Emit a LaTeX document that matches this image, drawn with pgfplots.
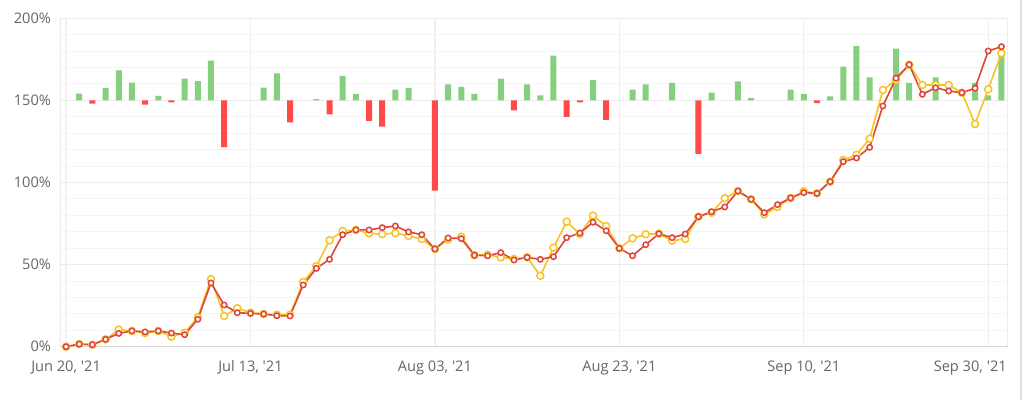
\documentclass[border=0pt]{standalone}
\usepackage{fontspec}
\setmainfont{Open Sans}
\usepackage{pgfplots}
\usepackage{pgfplotstable}
\pgfplotsset{compat=1.18}

\definecolor{barup}{RGB}{134,207,126}
\definecolor{bardown}{RGB}{255,74,74}
\definecolor{redline}{RGB}{224,69,58}
\definecolor{yelline}{RGB}{247,196,35}
\definecolor{ticktext}{RGB}{102,102,102}

% idx  red  yellow
\pgfplotstableread{
idx red yellow
0 0 0
1 1.6 1.6
2 1.2 1.2
3 4.5 4.5
4 8.1 10.4
5 9.6 9.6
6 9.0 8.3
7 9.6 9.6
8 8.3 6.1
9 7.3 8.5
10 16.7 17.9
11 38.8 41.2
12 25.4 18.7
13 20.7 23.4
14 20.3 20.7
15 19.9 19.9
16 18.9 19.5
17 18.7 19.5
18 37.6 39.4
19 47.7 49.1
20 53.2 64.8
21 68.2 70.5
22 71.1 71.1
23 71.1 69.1
24 72.5 68.5
25 73.5 69.2
26 69.9 67.4
27 68.2 65.6
28 59.5 59.5
29 66.2 65.4
30 65.8 67.0
31 55.7 55.7
32 55.4 56.0
33 57.3 54.4
34 52.8 53.4
35 54.4 54.4
36 53.2 43.2
37 54.8 60.3
38 66.4 76.1
39 69.2 68.6
40 75.8 79.8
41 70.6 73.5
42 59.9 59.9
43 55.4 66.0
44 62.1 68.5
45 68.8 68.8
46 66.4 64.6
47 68.6 65.6
48 79.2 79.2
49 82.2 81.6
50 85.1 90.4
51 94.8 94.8
52 89.8 89.8
53 81.6 80.6
54 86.5 85.1
55 90.6 90.6
56 93.8 94.6
57 93.4 93.4
58 100.5 100.5
59 112.7 113.7
60 114.9 116.9
61 121.4 126.7
62 146.6 156.3
63 163.5 162.4
64 171.7 171.7
65 153.7 159.4
66 157.7 159.4
67 155.7 159.4
68 154.7 154.7
69 157.4 135.6
70 180.1 156.8
71 182.7 178.7
}\lines

\pgfplotstableread{
idx v
1 4.1
3 7.5
4 18.3
5 10.8
7 2.7
9 13.2
10 11.8
11 24.2
15 7.7
16 16.4
19 0.8
21 14.9
22 3.9
25 6.5
26 7.5
29 9.7
30 8.2
31 3.9
33 13.2
35 9.7
36 3.0
37 27.2
40 12.4
43 6.5
44 9.7
46 10.6
49 4.7
51 11.6
52 1.4
55 6.5
56 3.9
58 2.4
59 20.5
60 33.1
61 14.0
63 31.5
64 10.6
66 14.0
69 10.6
70 3.0
71 29.5
}\gainbars

\pgfplotstableread{
idx v
2 -2.0
6 -2.6
8 -1.2
12 -28.4
17 -13.4
20 -8.5
23 -12.5
24 -16.0
28 -55.0
34 -6.1
38 -10.1
39 -1.2
41 -11.8
48 -32.6
57 -1.6
}\lossbars

\pgfplotsset{
  frame/.style={
    scale only axis,
    width=474pt, height=164.2pt,
    at={(30pt,26.65pt)}, anchor=south west,
    xmin=-0.46, xmax=71.5,
  },
}

\begin{document}
\begin{tikzpicture}
\path[fill=white, use as bounding box] (0,0) rectangle (512pt,200pt);
\draw[line width=1pt, draw=black!12] (510.3pt,0) -- (510.3pt,200pt);

% grid and labels
\begin{axis}[
  frame,
  ymin=0, ymax=200,
  axis line style={draw=none},
  xtick={0,14,28,42,56,70},
  xticklabels={{Jun 20, \textquotesingle21}, {Jul 13, \textquotesingle21}, {Aug 03, \textquotesingle21}, {Aug 23, \textquotesingle21}, {Sep 10, \textquotesingle21}, {\kern-18pt Sep 30, \textquotesingle21}},
  ytick={0,50,100,150,200},
  yticklabels={0\%,50\%,100\%,150\%,200\%},
  minor ytick={10,20,30,40,60,70,80,90,110,120,130,140,160,170,180,190},
  major tick length=0pt, minor tick length=0pt,
  grid=both,
  major grid style={draw=black!8, line width=0.6pt},
  minor grid style={draw=black!4, line width=0.5pt},
  x grid style={draw=black!6, line width=0.6pt},
  tick label style={font=\fontsize{7.3}{8}\selectfont, text=ticktext},
  xticklabel style={yshift=-3.5pt},
  yticklabel style={xshift=-1pt},
]
\draw[draw=black!7, line width=0.6pt] (rel axis cs:0,0) rectangle (rel axis cs:1,1);
\draw[draw=black!16, line width=0.7pt] (rel axis cs:0,0) -- (rel axis cs:1,0);
\end{axis}

% bars around the 150% line
\begin{axis}[
  frame,
  ymin=-150, ymax=50,
  hide axis,
  ybar, bar width=3pt, bar shift=0pt,
]
\addplot[fill=barup, draw=none] table[x=idx, y=v] {\gainbars};
\addplot[fill=bardown, draw=none] table[x=idx, y=v] {\lossbars};
\end{axis}

% lines
\begin{axis}[
  frame,
  ymin=0, ymax=200,
  hide axis,
]
\addplot[color=yelline, line width=0.8pt, mark=*, mark size=1.75pt,
  mark options={fill=white, draw=yelline, line width=0.75pt}]
  table[x=idx, y=yellow] {\lines};
\addplot[color=redline, line width=0.8pt, mark=*, mark size=1.35pt,
  mark options={fill=white, draw=redline, line width=0.75pt}]
  table[x=idx, y=red] {\lines};
\end{axis}
\end{tikzpicture}
\end{document}
